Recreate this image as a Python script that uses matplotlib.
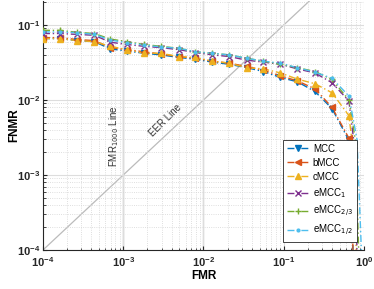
import numpy as np
import matplotlib.pyplot as plt

plt.rcParams["font.family"] = ["Liberation Sans", "DejaVu Sans"]

# FMR at marker positions (log spaced)
fmr = [1.0e-4, 1.63e-4, 2.66e-4, 4.37e-4, 6.9e-4, 1.12e-3, 1.82e-3, 2.95e-3, 4.9e-3,
       7.9e-3, 1.29e-2, 2.1e-2, 3.45e-2, 5.6e-2, 9.1e-2, 0.148, 0.245, 0.40, 0.65]

# FNMR values per method
mcc = [0.066, 0.066, 0.062, 0.060, 0.048, 0.045, 0.042, 0.040, 0.037,
       0.035, 0.032, 0.030, 0.027, 0.024, 0.020, 0.0175, 0.013, 0.0077, 0.0029]
bmcc = [0.068, 0.068, 0.064, 0.062, 0.050, 0.047, 0.044, 0.041, 0.038,
        0.036, 0.033, 0.031, 0.028, 0.025, 0.021, 0.018, 0.0141, 0.008, 0.0031]
cmcc = [0.066, 0.066, 0.062, 0.060, 0.052, 0.047, 0.042, 0.042, 0.038,
        0.037, 0.033, 0.031, 0.027, 0.026, 0.023, 0.019, 0.0165, 0.0125, 0.0062]
emcc1 = [0.077, 0.077, 0.075, 0.073, 0.059, 0.055, 0.052, 0.050, 0.047,
         0.043, 0.040, 0.038, 0.034, 0.032, 0.030, 0.026, 0.023, 0.017, 0.0097]
emcc23 = [0.085, 0.085, 0.080, 0.077, 0.065, 0.060, 0.055, 0.052, 0.049,
          0.044, 0.042, 0.040, 0.036, 0.033, 0.030, 0.027, 0.024, 0.0188, 0.010]
emcc12 = [0.081, 0.081, 0.079, 0.075, 0.063, 0.058, 0.054, 0.051, 0.049,
          0.044, 0.042, 0.040, 0.036, 0.033, 0.031, 0.027, 0.0235, 0.0195, 0.0113]

# end of each curve (FMR, FNMR) where it falls off
tails = {
    "MCC": ([0.70, 0.73], [0.0015, 1e-4]),
    "bMCC": ([0.70, 0.73], [0.0015, 1e-4]),
    "cMCC": ([0.74, 0.80], [0.0020, 1e-4]),
    "eMCC$_1$": ([0.76, 0.82], [0.0025, 1e-4]),
    "eMCC$_{2/3}$": ([0.78, 0.86], [0.0030, 1e-4]),
    "eMCC$_{1/2}$": ([0.82, 0.93], [0.0030, 1e-4]),
}

series = [("MCC", mcc, "#0072BD", "v"),
          ("bMCC", bmcc, "#D95319", "<"),
          ("cMCC", cmcc, "#EDB120", "^"),
          ("eMCC$_1$", emcc1, "#7E2F8E", "x"),
          ("eMCC$_{2/3}$", emcc23, "#77AC30", "+"),
          ("eMCC$_{1/2}$", emcc12, "#4DBEEE", ".")]

dashdot = (0, (5, 2, 1, 2))

fig = plt.figure(figsize=(3.74, 2.89), dpi=100)
ax = fig.add_axes([0.115, 0.135, 0.858, 0.862])

ax.set_xscale("log")
ax.set_yscale("log")
ax.set_xlim(1e-4, 1)
ax.set_ylim(1e-4, 0.21)

ax.grid(True, which="major", color="#dddddd", linewidth=0.8, linestyle="-")
ax.grid(True, which="minor", color="#d4d4d4", linewidth=0.6, linestyle=":")

# reference lines
ax.plot([1e-4, 1], [1e-4, 1], color="#bbbbbb", linewidth=0.9, zorder=1)
ax.axvline(1e-3, color="#bbbbbb", linewidth=1.0, zorder=1)
ax.axvline(1e-2, color="#cccccc", linewidth=1.0, zorder=1)
ax.text(7.6e-4, 3.3e-3, "FMR$_{1000}$ Line", rotation=90, fontsize=7,
        ha="center", va="center", color="#333333")
ax.text(3.4e-3, 5.3e-3, "EER Line", rotation=45, fontsize=7,
        ha="center", va="center", color="#333333")

for name, vals, col, mk in series:
    tx, ty = tails[name]
    filled = mk in ("v", "<", "^")
    ms = 5 if filled else 4
    ax.plot(list(fmr) + tx, list(vals) + ty, color=col, linestyle=dashdot,
            linewidth=1.0, zorder=3)
    ax.plot(fmr, vals, linestyle="none", marker=mk, color=col,
            markersize=ms, markeredgewidth=1.0, markerfacecolor=col, zorder=4)
    ax.plot([], [], color=col, linestyle=dashdot, linewidth=1.0, marker=mk,
            markersize=ms, markerfacecolor=col, label=name)

ax.set_xlabel("FMR", fontsize=8.5, fontweight="bold", labelpad=1)
ax.set_ylabel("FNMR", fontsize=8.5, fontweight="bold")
ax.yaxis.set_label_coords(-0.072, 0.5)
ax.set_xticks([1e-4, 1e-3, 1e-2, 1e-1, 1])
ax.set_yticks([1e-4, 1e-3, 1e-2, 1e-1])
ax.tick_params(which="both", direction="in", top=False, right=False,
               labelsize=8, colors="#262626")
ax.tick_params(axis="y", pad=2)
ax.tick_params(which="major", length=3)
ax.tick_params(which="minor", length=1.8)
for lbl in ax.get_xticklabels() + ax.get_yticklabels():
    lbl.set_fontweight("bold")
for s in ["top", "right"]:
    ax.spines[s].set_visible(False)
for s in ["left", "bottom"]:
    ax.spines[s].set_color("#262626")

leg = ax.legend(loc="lower right", bbox_to_anchor=(0.978, 0.032), fontsize=7,
                frameon=True, fancybox=False, handlelength=2.3,
                handletextpad=0.4, labelspacing=0.42, borderpad=0.4,
                borderaxespad=0, framealpha=1)
leg.get_frame().set_edgecolor("#262626")
leg.get_frame().set_linewidth(0.6)

fig.savefig("out.png", dpi=100)
